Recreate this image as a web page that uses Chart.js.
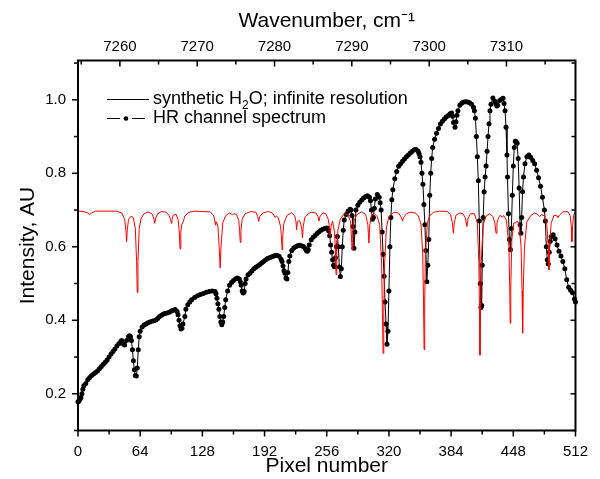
<!DOCTYPE html>
<html>
<head>
<meta charset="utf-8">
<script src="https://cdn.jsdelivr.net/npm/chart.js@4.4.1/dist/chart.umd.min.js"></script>
<style>
  body { margin: 0; background: #fff; }
  #wrap { width: 600px; height: 479px; }
</style>
</head>
<body>
<div id="wrap"><canvas id="spec"></canvas></div>
<script>
// HR channel spectrum: [pixel, intensity]
const hrChannel = [
  [0,0.178],[1,0.18],[2,0.185],[3,0.19],[4,0.2],[5,0.212],[6,0.222],[8,0.228],[10,0.238],[12,0.244],
  [14,0.25],[16,0.254],[18,0.258],[20,0.262],[22,0.268],[24,0.274],[26,0.28],[28,0.286],[30,0.292],
  [32,0.3],[34,0.308],[36,0.315],[38,0.322],[40,0.33],[42,0.336],[44,0.342],[45,0.345],[47,0.335],
  [48,0.333],[50,0.345],[52,0.356],[53,0.358],[54,0.355],[55,0.345],[56,0.32],[57,0.29],[58,0.265],
  [59,0.25],[60,0.248],[61,0.27],[62,0.32],[63,0.355],[64,0.37],[66,0.382],[68,0.387],[70,0.39],
  [72,0.393],[74,0.395],[76,0.397],[78,0.399],[80,0.401],[82,0.405],[84,0.41],[86,0.414],[88,0.417],
  [90,0.419],[92,0.42],[94,0.422],[96,0.425],[98,0.427],[100,0.429],[102,0.424],[103,0.415],[104,0.4],
  [105,0.385],[106,0.376],[107,0.378],[108,0.39],[110,0.41],[111,0.43],[113,0.442],[115,0.45],
  [117,0.456],[120,0.462],[123,0.467],[126,0.47],[129,0.473],[132,0.476],[135,0.478],[138,0.48],
  [141,0.478],[142,0.472],[143,0.46],[144,0.445],[145,0.43],[146,0.41],[147,0.395],[148,0.388],
  [149,0.395],[150,0.41],[151,0.435],[152,0.456],[154,0.48],[156,0.495],[158,0.503],[160,0.508],
  [162,0.512],[164,0.515],[166,0.512],[167,0.505],[168,0.495],[169,0.48],[170,0.474],[171,0.478],
  [172,0.5],[173,0.512],[175,0.524],[177,0.528],[179,0.534],[181,0.54],[183,0.544],[185,0.548],
  [187,0.552],[189,0.556],[191,0.56],[193,0.564],[195,0.568],[197,0.57],[199,0.572],[201,0.574],
  [203,0.576],[205,0.576],[207,0.574],[209,0.566],[210,0.56],[211,0.548],[212,0.535],[213,0.528],
  [214,0.515],[215,0.512],[216,0.53],[217,0.56],[218,0.575],[220,0.59],[222,0.597],[224,0.6],
  [226,0.603],[228,0.604],[230,0.603],[232,0.601],[234,0.595],[235,0.59],[236,0.588],[237,0.592],
  [238,0.605],[240,0.619],[242,0.626],[244,0.631],[246,0.636],[248,0.641],[250,0.645],[252,0.648],
  [254,0.65],[256,0.651],[257,0.65],[258,0.643],[259,0.63],[260,0.605],[261,0.585],[262,0.565],
  [263,0.55],[264,0.546],[265,0.57],[266,0.6],[267,0.628],[268,0.6],[269,0.545],[270,0.519],
  [271,0.54],[272,0.6],[273,0.645],[274,0.673],[276,0.688],[278,0.697],[280,0.702],[281,0.7],
  [282,0.685],[283,0.655],[284,0.596],[285,0.64],[286,0.7],[288,0.713],[290,0.721],[292,0.727],
  [294,0.733],[296,0.737],[298,0.739],[300,0.735],[301,0.725],[302,0.7],[303,0.675],[304,0.68],
  [305,0.705],[306,0.73],[308,0.742],[310,0.735],[311,0.72],[312,0.7],[313,0.64],[314,0.58],
  [315,0.52],[316,0.45],[317,0.39],[318,0.335],[319,0.37],[320,0.48],[321,0.6],[322,0.68],
  [323,0.728],[324,0.755],[326,0.785],[328,0.805],[330,0.819],[332,0.826],[334,0.833],[336,0.839],
  [338,0.845],[340,0.85],[342,0.855],[344,0.86],[346,0.864],[348,0.865],[350,0.86],[351,0.853],
  [352,0.845],[353,0.83],[354,0.8],[355,0.77],[356,0.715],[357,0.66],[358,0.59],[359,0.505],
  [360,0.55],[361,0.62],[362,0.74],[363,0.8],[364,0.84],[365,0.87],[367,0.893],[369,0.909],
  [371,0.922],[373,0.934],[375,0.942],[377,0.948],[379,0.953],[381,0.957],[383,0.962],[384.5,0.964],
  [385.5,0.955],[386.5,0.938],[388,0.925],[389,0.94],[390,0.958],[391,0.97],[393,0.985],[395,0.991],
  [397,0.994],[399,0.995],[401,0.994],[403,0.992],[405,0.988],[407,0.98],[408,0.97],[409,0.95],
  [410,0.9],[411,0.845],[412,0.78],[413,0.67],[414,0.5],[414.7,0.435],[415.5,0.44],[416,0.55],
  [417,0.68],[418,0.75],[419,0.79],[420,0.82],[421,0.86],[422,0.9],[423,0.935],[424,0.97],
  [425,0.988],[427,1.005],[429,0.996],[430,0.99],[431,0.983],[432,0.985],[434,0.998],[436,1.002],
  [437.5,1.004],[438.5,0.99],[439.5,0.97],[440.5,0.925],[441.5,0.85],[442,0.79],[443,0.69],
  [444,0.62],[445,0.592],[446,0.65],[447,0.74],[448,0.82],[449,0.87],[450,0.887],[451,0.886],
  [452,0.882],[453,0.84],[454,0.76],[455,0.66],[455.8,0.637],[456.6,0.68],[457.5,0.75],[458.5,0.79],
  [460,0.826],[462,0.845],[464,0.85],[466,0.843],[468,0.835],[470,0.826],[472,0.808],[474,0.788],
  [476,0.765],[478,0.735],[480,0.7],[481,0.67],[482,0.6],[483,0.565],[484,0.553],[485,0.585],
  [486,0.615],[487,0.627],[489,0.633],[491,0.622],[493,0.605],[495,0.588],[497,0.575],[499,0.56],
  [501,0.54],[503,0.51],[505,0.49],[507,0.482],[509,0.475],[511,0.458],[512,0.45]
];

// synthetic H2O, infinite resolution: [pixel, intensity]
const synthetic = [
  [0,0.697],[6,0.696],[10,0.692],[12,0.688],[14,0.692],[18,0.697],[40,0.697],[45,0.692],[48,0.675],
  [49.3,0.645],[50,0.614],[50.7,0.645],[52,0.675],[55,0.684],[57,0.678],[59,0.65],[60.3,0.56],
  [61,0.476],[61.7,0.56],[63,0.65],[65,0.678],[68,0.69],[72,0.695],[76,0.69],[78,0.678],[79,0.664],
  [80,0.678],[82,0.69],[86,0.696],[91,0.694],[94,0.684],[95.3,0.674],[96,0.664],[96.7,0.674],
  [98,0.686],[101,0.688],[103,0.674],[104.3,0.64],[105,0.594],[105.8,0.64],[107,0.662],[108.3,0.668],
  [110,0.684],[114,0.694],[120,0.697],[136,0.695],[139.5,0.686],[141,0.668],[141.6,0.659],
  [142.4,0.668],[144,0.655],[145.3,0.6],[146.3,0.542],[147.2,0.6],[149,0.665],[152,0.685],
  [156,0.692],[158,0.689],[159,0.686],[160.5,0.69],[163,0.688],[165.5,0.672],[166.3,0.645],
  [167,0.612],[167.7,0.645],[169,0.675],[172,0.69],[178,0.696],[183,0.694],[185,0.682],[186,0.669],
  [187,0.682],[190,0.692],[196,0.696],[200,0.692],[202,0.684],[203,0.68],[204,0.684],[206,0.68],
  [208.5,0.655],[209.3,0.63],[210,0.592],[210.7,0.63],[212,0.665],[215,0.685],[220,0.693],
  [223,0.684],[224.3,0.67],[225,0.646],[225.8,0.668],[228,0.672],[230,0.655],[231,0.624],
  [231.8,0.655],[233.5,0.68],[237,0.69],[240,0.694],[245,0.692],[247,0.682],[248,0.67],[249,0.682],
  [252,0.692],[255,0.69],[257.5,0.675],[258.8,0.655],[259.6,0.628],[260.4,0.655],[262,0.67],
  [264,0.64],[265,0.58],[265.6,0.524],[266.3,0.58],[267.5,0.645],[270,0.675],[274,0.69],[278,0.687],
  [280.5,0.668],[281.3,0.635],[282,0.592],[282.7,0.635],[284,0.67],[287,0.688],[292,0.695],
  [296,0.688],[298.3,0.66],[299.4,0.61],[300.3,0.66],[302,0.685],[305,0.69],[308,0.682],
  [310.5,0.66],[312.5,0.55],[313.3,0.42],[314,0.31],[314.7,0.42],[315.5,0.55],[317.5,0.655],
  [320,0.682],[325,0.694],[330,0.692],[332.7,0.68],[334,0.67],[335.2,0.68],[338,0.69],[342,0.694],
  [347,0.692],[350,0.685],[353,0.662],[354.8,0.58],[355.6,0.45],[356.2,0.32],[356.8,0.45],
  [357.6,0.58],[359.5,0.665],[362,0.685],[366,0.694],[372,0.697],[380,0.696],[383.5,0.687],
  [385.3,0.665],[386.3,0.637],[387.3,0.665],[389,0.686],[393,0.692],[396,0.69],[398.5,0.68],
  [400.2,0.655],[401.5,0.678],[404,0.69],[408,0.69],[411,0.665],[412.5,0.56],[413.2,0.43],
  [413.7,0.305],[414.3,0.43],[415,0.56],[417,0.66],[420,0.684],[424,0.69],[427,0.682],[429,0.665],
  [430.2,0.637],[431.2,0.665],[433,0.68],[434.5,0.686],[436.5,0.68],[438,0.685],[441,0.672],
  [443.5,0.6],[444.3,0.49],[444.8,0.392],[445.4,0.49],[446.5,0.62],[448.5,0.665],[450,0.665],
  [452,0.67],[454,0.66],[456,0.6],[457,0.48],[457.6,0.365],[458.2,0.48],[459.5,0.6],[462,0.668],
  [466,0.685],[470,0.692],[473,0.688],[475.2,0.682],[477,0.688],[480,0.684],[482.5,0.66],[484,0.6],
  [484.6,0.537],[485.3,0.6],[487,0.665],[490,0.686],[493,0.684],[494,0.68],[495.5,0.686],
  [499,0.695],[504,0.696],[506.5,0.685],[507.7,0.655],[508.3,0.614],[508.9,0.655],[510,0.685],
  [512,0.697]
];

// axis ticks
const pixelTicks = [0, 64, 128, 192, 256, 320, 384, 448, 512];
const pixelMinor = [32, 96, 160, 224, 288, 352, 416, 480];
const intensityTicks = [0.2, 0.4, 0.6, 0.8, 1.0];
const intensityMinor = [0.1, 0.3, 0.5, 0.7, 0.9, 1.1];
const waveTicks = [7260, 7270, 7280, 7290, 7300, 7310];
const waveMinor = [7255, 7265, 7275, 7285, 7295, 7305, 7315];

const FONT = "'Liberation Sans', Arial, sans-serif";

// frame, tick marks and legend
const framePlugin = {
  id: 'frame',
  afterDraw(chart) {
    const ctx = chart.ctx, a = chart.chartArea;
    const sx = chart.scales.x, sy = chart.scales.y, st = chart.scales.x2;
    ctx.save();
    ctx.strokeStyle = '#000';
    ctx.lineWidth = 1.5;
    function seg(x1, y1, x2, y2) { ctx.beginPath(); ctx.moveTo(x1, y1); ctx.lineTo(x2, y2); ctx.stroke(); }
    pixelTicks.forEach(v => { const p = sx.getPixelForValue(v); seg(p, a.bottom, p, a.bottom + 6); });
    pixelMinor.forEach(v => { const p = sx.getPixelForValue(v); seg(p, a.bottom, p, a.bottom + 4); });
    waveTicks.forEach(v => { const p = st.getPixelForValue(v); seg(p, a.top, p, a.top + 6); });
    waveMinor.forEach(v => { const p = st.getPixelForValue(v); if (p < a.right - 1) seg(p, a.top, p, a.top + 4); });
    intensityTicks.forEach(v => {
      const p = sy.getPixelForValue(v);
      seg(a.left - 6, p, a.left, p);
      seg(a.right - 5, p, a.right, p);
    });
    intensityMinor.forEach(v => {
      const p = sy.getPixelForValue(v);
      if (p < a.top + 1) return;
      seg(a.left - 4, p, a.left, p);
      seg(a.right - 4, p, a.right, p);
    });
    ctx.lineWidth = 2;
    ctx.strokeRect(a.left, a.top, a.right - a.left, a.bottom - a.top);

    // legend
    const lx = a.left + 29, tx = a.left + 75;
    const r1 = a.top + 39, r2 = a.top + 58;
    ctx.lineWidth = 1;
    seg(lx, r1, lx + 42, r1);
    seg(lx, r2, lx + 13, r2);
    seg(lx + 25, r2, lx + 38, r2);
    ctx.fillStyle = '#000';
    ctx.beginPath(); ctx.arc(lx + 19, r2, 2.3, 0, Math.PI * 2); ctx.fill();
    ctx.textBaseline = 'middle';
    ctx.textAlign = 'left';
    ctx.font = '18px ' + FONT;
    let x = tx;
    const s1 = 'synthetic H';
    ctx.fillText(s1, x, r1); x += ctx.measureText(s1).width;
    ctx.font = '12px ' + FONT;
    ctx.fillText('2', x, r1 + 6); x += ctx.measureText('2').width;
    ctx.font = '18px ' + FONT;
    ctx.fillText('O; infinite resolution', x, r1);
    ctx.fillText('HR channel spectrum', tx, r2);
    ctx.restore();
  }
};

const ctx = document.getElementById('spec').getContext('2d');
new Chart(ctx, {
  type: 'line',
  data: {
    datasets: [
      {
        label: 'synthetic H2O; infinite resolution',
        data: synthetic.map(d => ({ x: d[0], y: d[1] })),
        borderColor: '#ff0000',
        borderWidth: 1,
        pointRadius: 0,
        tension: 0
      },
      {
        label: 'HR channel spectrum',
        data: hrChannel.map(d => ({ x: d[0], y: d[1] })),
        borderColor: '#000',
        borderWidth: 1,
        pointRadius: 2.5,
        pointBackgroundColor: '#000',
        pointBorderWidth: 0,
        tension: 0,
        clip: false
      }
    ]
  },
  options: {
    responsive: true,
    maintainAspectRatio: false,
    animation: false,
    events: [],
    layout: { padding: { left: 0, right: 17, top: 0, bottom: 0 } },
    plugins: { legend: { display: false }, tooltip: { enabled: false } },
    scales: {
      x: {
        type: 'linear', position: 'bottom', min: 0, max: 512,
        afterFit(s) { s.height = 48.5; },
        afterBuildTicks(s) { s.ticks = pixelTicks.map(v => ({ value: v })); },
        grid: { display: false, drawTicks: false },
        border: { display: false },
        ticks: { color: '#000', font: { family: FONT, size: 15 }, padding: 12, maxRotation: 0, autoSkip: false, callback: v => String(v) },
        title: { display: true, text: 'Pixel number', color: '#000', font: { family: FONT, size: 21, lineHeight: 1.2 }, padding: { top: 0, bottom: 0 } }
      },
      x2: {
        type: 'linear', position: 'top', min: 7254.58, max: 7318.93,
        afterFit(s) { s.height = 60.5; },
        afterBuildTicks(s) { s.ticks = waveTicks.map(v => ({ value: v })); },
        grid: { display: false, drawTicks: false },
        border: { display: false },
        ticks: { color: '#000', font: { family: FONT, size: 15 }, padding: 5, maxRotation: 0, autoSkip: false, callback: v => String(v) },
        title: { display: true, text: 'Wavenumber, cm\u207B\u00B9', color: '#000', font: { family: FONT, size: 21, lineHeight: 1.2 }, padding: { top: 9, bottom: 0 } }
      },
      y: {
        type: 'linear', position: 'left', min: 0.1, max: 1.107,
        afterFit(s) { s.width = 78; },
        afterBuildTicks(s) { s.ticks = intensityTicks.map(v => ({ value: v })); },
        grid: { display: false, drawTicks: false },
        border: { display: false },
        ticks: { color: '#000', font: { family: FONT, size: 15 }, padding: 12, callback: v => v.toFixed(1) },
        title: { display: true, text: 'Intensity, AU', color: '#000', font: { family: FONT, size: 21, lineHeight: 1.2 }, padding: { top: 16, bottom: 0 } }
      }
    }
  },
  plugins: [framePlugin]
});
</script>
</body>
</html>
